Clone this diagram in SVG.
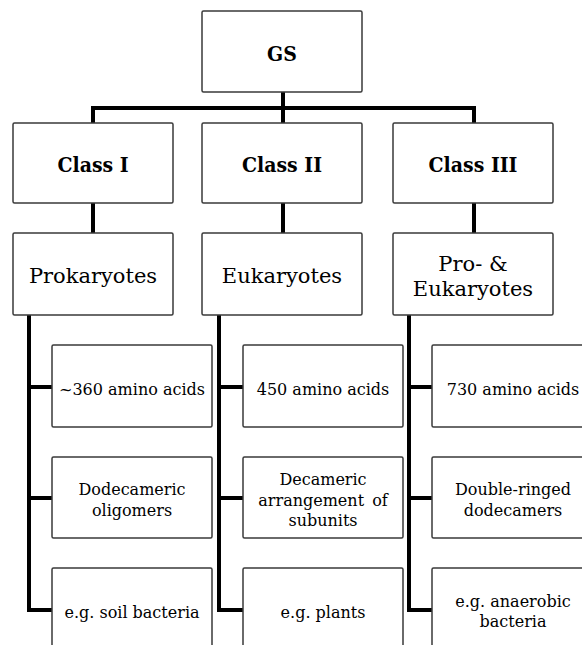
<svg xmlns="http://www.w3.org/2000/svg" width="582" height="645" viewBox="0 0 582 645">
<style>
.box{fill:#fff;stroke:#3a3a3a;stroke-width:1.5}
.con{fill:none;stroke:#000;stroke-width:4;stroke-linejoin:miter}
.b{font-family:"DejaVu Serif Condensed","DejaVu Serif",serif;font-weight:bold;font-stretch:condensed;font-size:21px;text-anchor:middle;fill:#000}
.m{font-family:"DejaVu Serif",serif;font-size:21px;text-anchor:middle;fill:#000}
.s{font-family:"DejaVu Serif",serif;font-size:16px;text-anchor:middle;fill:#000}
</style>
<g id="connectors">
<path class="con" d="M283,92 V108"/>
<path class="con" d="M93,123 V108 H474 V123"/>
<path class="con" d="M283,108 V123"/>
<path class="con" d="M93,203 V233"/>
<path class="con" d="M283,203 V233"/>
<path class="con" d="M474,203 V233"/>
<path class="con" d="M29,315 V610 H52 M29,387 H52 M29,498 H52"/>
<path class="con" d="M219,315 V610 H243 M219,387 H243 M219,498 H243"/>
<path class="con" d="M409,315 V610 H432 M409,387 H432 M409,498 H432"/>
</g>
<g id="gs"><rect class="box" x="202" y="11" width="160" height="81" rx="1.5"/><text class="b" x="282" y="61">GS</text></g>
<g id="class1"><rect class="box" x="13" y="123" width="160" height="80" rx="1.5"/><text class="b" x="93" y="172">Class I</text></g>
<g id="class2"><rect class="box" x="202" y="123" width="160" height="80" rx="1.5"/><text class="b" x="282" y="172">Class II</text></g>
<g id="class3"><rect class="box" x="393" y="123" width="160" height="80" rx="1.5"/><text class="b" x="473" y="172">Class III</text></g>
<g id="prokaryotes"><rect class="box" x="13" y="233" width="160" height="82" rx="1.5"/><text class="m" x="93" y="283">Prokaryotes</text></g>
<g id="eukaryotes"><rect class="box" x="202" y="233" width="160" height="82" rx="1.5"/><text class="m" x="282" y="283">Eukaryotes</text></g>
<g id="proeukaryotes"><rect class="box" x="393" y="233" width="160" height="82" rx="1.5"/><text class="m" x="473" y="271">Pro- &amp;</text><text class="m" x="473" y="296">Eukaryotes</text></g>
<g id="c1a"><rect class="box" x="52" y="345" width="160" height="82" rx="1.5"/><text class="s" x="132" y="395">~360 amino acids</text></g>
<g id="c1b"><rect class="box" x="52" y="457" width="160" height="81" rx="1.5"/><text class="s" x="132" y="495">Dodecameric</text><text class="s" x="132" y="516">oligomers</text></g>
<g id="c1c"><rect class="box" x="52" y="568" width="160" height="90" rx="1.5"/><text class="s" x="132" y="618">e.g. soil bacteria</text></g>
<g id="c2a"><rect class="box" x="243" y="345" width="160" height="82" rx="1.5"/><text class="s" x="323" y="395">450 amino acids</text></g>
<g id="c2b"><rect class="box" x="243" y="457" width="160" height="81" rx="1.5"/><text class="s" x="323" y="485">Decameric</text><text class="s" x="323" y="506" word-spacing="3">arrangement of</text><text class="s" x="323" y="526">subunits</text></g>
<g id="c2c"><rect class="box" x="243" y="568" width="160" height="90" rx="1.5"/><text class="s" x="323" y="618">e.g. plants</text></g>
<g id="c3a"><rect class="box" x="432" y="345" width="160" height="82" rx="1.5"/><text class="s" x="513" y="395">730 amino acids</text></g>
<g id="c3b"><rect class="box" x="432" y="457" width="160" height="81" rx="1.5"/><text class="s" x="513" y="495">Double-ringed</text><text class="s" x="513" y="516">dodecamers</text></g>
<g id="c3c"><rect class="box" x="432" y="568" width="160" height="90" rx="1.5"/><text class="s" x="513" y="607">e.g. anaerobic</text><text class="s" x="513" y="627">bacteria</text></g>
</svg>
